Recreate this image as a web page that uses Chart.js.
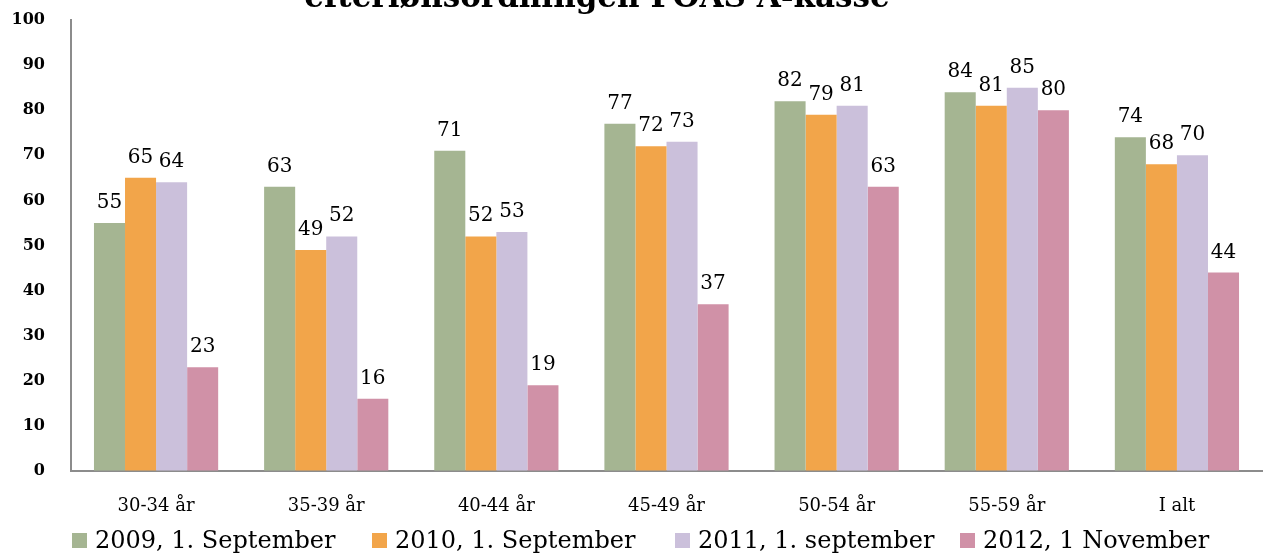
<!DOCTYPE html>
<html>
<head>
<meta charset="utf-8">
<script src="https://cdn.jsdelivr.net/npm/chart.js@4.4.1/dist/chart.umd.min.js"></script>
<style>
html,body{margin:0;padding:0;background:#fff;}
#wrap{width:1263px;height:556px;position:relative;}
</style>
</head>
<body>
<div id="wrap"><canvas id="c" width="1263" height="556"></canvas></div>
<script>
const categories = ['30-34 år', '35-39 år', '40-44 år', '45-49 år', '50-54 år', '55-59 år', 'I alt'];
const seriesLabels = ['2009, 1. September', '2010, 1. September', '2011, 1. september', '2012, 1 November'];
const values2009 = [55, 63, 71, 77, 82, 84, 74];
const values2010 = [65, 49, 52, 72, 79, 81, 68];
const values2011 = [64, 52, 53, 73, 81, 85, 70];
const values2012 = [23, 16, 19, 37, 63, 80, 44];
const seriesColors = ['#A5B592', '#F2A54A', '#CBC0DB', '#D091A7'];
const yMin = 0, yMax = 100, yStep = 10;
const titleText = 'efterlønsordningen FOAS A-kasse';

const FONT = '"DejaVu Serif", "Liberation Serif", serif';

const titlePlugin = {
  id: 'cutTitle',
  afterDraw(chart) {
    const ctx = chart.ctx;
    ctx.save();
    ctx.font = 'bold 31px ' + FONT;
    ctx.fillStyle = '#000';
    ctx.textAlign = 'center';
    ctx.textBaseline = 'alphabetic';
    ctx.fillText(titleText, 597, 7);
    ctx.restore();
  }
};

const labelPlugin = {
  id: 'valueLabels',
  afterDatasetsDraw(chart) {
    const ctx = chart.ctx;
    ctx.save();
    ctx.font = '20px ' + FONT;
    ctx.fillStyle = '#000';
    ctx.textAlign = 'center';
    ctx.textBaseline = 'alphabetic';
    chart.data.datasets.forEach((ds, i) => {
      const meta = chart.getDatasetMeta(i);
      meta.data.forEach((bar, j) => {
        ctx.fillText(String(ds.data[j]), bar.x, bar.y - 15);
      });
    });
    ctx.restore();
  }
};

const legendPlugin = {
  id: 'fixedLegend',
  afterDraw(chart) {
    const ctx = chart.ctx;
    const xs = [72, 372, 675, 960];
    ctx.save();
    ctx.font = '24px ' + FONT;
    ctx.textAlign = 'left';
    ctx.textBaseline = 'alphabetic';
    chart.data.datasets.forEach((ds, i) => {
      ctx.fillStyle = ds.backgroundColor;
      ctx.fillRect(xs[i], 533, 15, 15);
      ctx.fillStyle = '#000';
      ctx.fillText(ds.label, xs[i] + 23, 548);
    });
    ctx.restore();
  }
};

const seriesValues = [values2009, values2010, values2011, values2012];

new Chart(document.getElementById('c'), {
  type: 'bar',
  data: {
    labels: categories,
    datasets: seriesValues.map((vals, i) => ({
      label: seriesLabels[i],
      data: vals,
      backgroundColor: seriesColors[i],
      borderWidth: 0,
      categoryPercentage: 0.73,
      barPercentage: 1.0
    }))
  },
  options: {
    responsive: false,
    animation: false,
    devicePixelRatio: 1,
    layout: { padding: { top: 20, right: 1, bottom: 38, left: 0 } },
    plugins: {
      legend: { display: false },
      title: { display: false },
      tooltip: { enabled: false }
    },
    scales: {
      x: {
        grid: { display: false, drawTicks: false },
        border: { display: true, color: '#8C8C8C', width: 2 },
        ticks: { color: '#000', font: { family: FONT, size: 18 }, padding: 25, maxRotation: 0 },
        afterFit(scale) { scale.height = 47; }
      },
      y: {
        min: yMin, max: yMax,
        grid: { display: true, drawOnChartArea: false, drawTicks: true, tickLength: 22, tickColor: 'rgba(0,0,0,0)' },
        border: { display: true, color: '#8C8C8C', width: 2 },
        ticks: { stepSize: yStep, color: '#000', font: { family: FONT, size: 16, weight: 'bold' }, padding: 4 },
        afterFit(scale) { scale.width = 71; }
      }
    }
  },
  plugins: [titlePlugin, labelPlugin, legendPlugin]
});
</script>
</body>
</html>
